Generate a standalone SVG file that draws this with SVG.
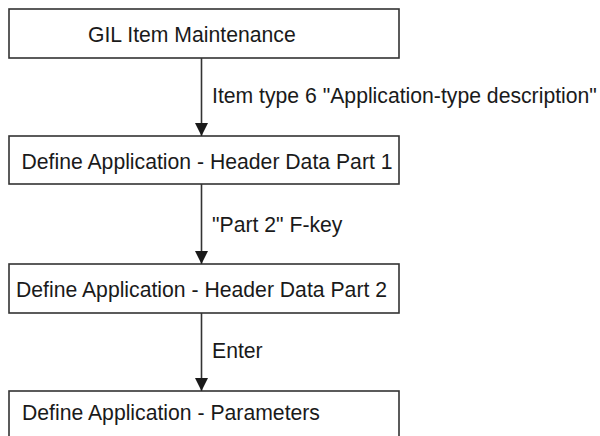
<svg xmlns="http://www.w3.org/2000/svg" width="600" height="436" viewBox="0 0 600 436">
  <style>
    .box { fill: #ffffff; stroke: #333333; stroke-width: 1.6; }
    .lbl { font-family: "Liberation Sans", Arial, sans-serif; font-size: 21.2px; fill: #1a1a1a; }
    .conn { stroke: #333333; stroke-width: 1.6; fill: none; }
  </style>
  <defs>
    <marker id="arrow" markerWidth="14" markerHeight="14" refX="13" refY="6.5" orient="auto" markerUnits="userSpaceOnUse">
      <path d="M0,0 L13,6.5 L0,13 Z" fill="#1a1a1a"/>
    </marker>
  </defs>
  <rect width="600" height="436" fill="#ffffff"/>

  <g id="node-gil">
    <rect class="box" x="9" y="9" width="390" height="49"/>
    <text class="lbl" x="88" y="42">GIL Item Maintenance</text>
  </g>
  <g id="node-header1">
    <rect class="box" x="9" y="136" width="390" height="48"/>
    <text class="lbl" x="21.5" y="169">Define Application - Header Data Part 1</text>
  </g>
  <g id="node-header2">
    <rect class="box" x="9" y="264" width="390" height="49"/>
    <text class="lbl" x="16" y="297">Define Application - Header Data Part 2</text>
  </g>
  <g id="node-params">
    <rect class="box" x="9" y="391" width="390" height="60"/>
    <text class="lbl" x="22" y="420">Define Application - Parameters</text>
  </g>

  <g id="connectors">
    <line class="conn" x1="201.5" y1="58" x2="201.5" y2="136" marker-end="url(#arrow)"/>
    <text class="lbl" x="212" y="103">Item type 6 "Application-type description"</text>
    <line class="conn" x1="201.5" y1="184" x2="201.5" y2="264" marker-end="url(#arrow)"/>
    <text class="lbl" x="212" y="232">"Part 2" F-key</text>
    <line class="conn" x1="201.5" y1="313" x2="201.5" y2="391" marker-end="url(#arrow)"/>
    <text class="lbl" x="212" y="358">Enter</text>
  </g>
</svg>
